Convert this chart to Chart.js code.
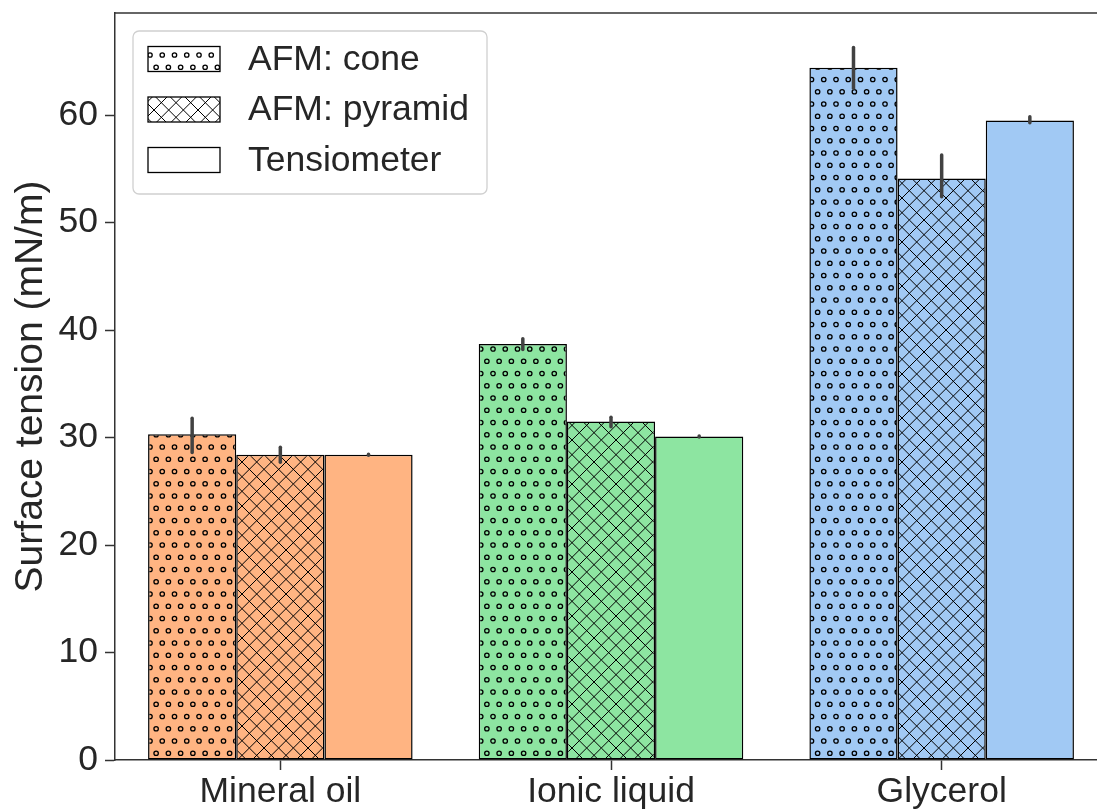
<!DOCTYPE html>
<html>
<head>
<meta charset="utf-8">
<script src="https://cdn.jsdelivr.net/npm/chart.js@4.4.0/dist/chart.umd.min.js"></script>
<style>
    html, body { margin: 0; padding: 0; background: #fff; overflow: hidden; }
    #wrap { position: absolute; left: 0; top: 0; width: 1107px; height: 812px; }
</style>
</head>
<body>
<div id="wrap"><canvas id="tensionChart"></canvas></div>
<script>
// data
const categories = ['Mineral oil', 'Ionic liquid', 'Glycerol'];
const seriesLabels = ['AFM: cone', 'AFM: pyramid', 'Tensiometer'];
const coneValues = [30.3, 38.7, 64.4];
const pyramidValues = [28.4, 31.5, 54.1];
const tensiometerValues = [28.4, 30.1, 59.5];
// error bar ranges (low / high)
const coneErrLow = [28.6, 38.2, 62.5];
const coneErrHigh = [31.8, 39.2, 66.3];
const pyramidErrLow = [27.7, 31.0, 52.4];
const pyramidErrHigh = [29.1, 31.9, 56.3];
const tensiometerErrLow = [28.35, 30.05, 59.3];
const tensiometerErrHigh = [28.45, 30.15, 59.85];
const yTicks = [0, 10, 20, 30, 40, 50, 60];

const categoryColors = ['#FFB482', '#8DE5A1', '#A1C9F4'];
const textColor = '#262626';
const spineColor = '#333333';
const fontFamily = "'Liberation Sans', Arial, sans-serif";

function dotPattern(bg) {
    const step = 12.25;
    const size = step * 4;
    const c = document.createElement('canvas');
    c.width = size; c.height = size;
    const g = c.getContext('2d');
    g.fillStyle = bg;
    g.fillRect(0, 0, size, size);
    g.strokeStyle = '#000';
    g.lineWidth = 1.3;
    for (let r = 0; r < 4; r++) {
        const y = r * step + 6;
        const off = r % 2 ? step / 2 : 0;
        for (let k = -1; k <= 4; k++) {
            const x = k * step + off + 3;
            g.beginPath();
            g.arc(x, y, 2.2, 0, Math.PI * 2);
            g.stroke();
        }
    }
    return g.createPattern(c, 'repeat');
}

function crossPattern(bg) {
    const p = 44 / 3;
    const size = 44;
    const c = document.createElement('canvas');
    c.width = size; c.height = size;
    const g = c.getContext('2d');
    g.fillStyle = bg;
    g.fillRect(0, 0, size, size);
    g.strokeStyle = '#000';
    g.lineWidth = 1;
    for (let k = -4; k <= 7; k++) {
        g.beginPath();
        g.moveTo(k * p, 0);
        g.lineTo(k * p + size, size);
        g.stroke();
        g.beginPath();
        g.moveTo(k * p, size);
        g.lineTo(k * p + size, 0);
        g.stroke();
    }
    return g.createPattern(c, 'repeat');
}

const errorRanges = [
    [coneErrLow, coneErrHigh],
    [pyramidErrLow, pyramidErrHigh],
    [tensiometerErrLow, tensiometerErrHigh]
];

const legendFills = [dotPattern('#ffffff'), crossPattern('#ffffff'), '#ffffff'];

// error bars, spines and legend box
const extrasPlugin = {
    id: 'extras',
    afterDatasetsDraw(chart) {
        const ctx = chart.ctx;
        const y = chart.scales.y;
        ctx.save();
        ctx.strokeStyle = '#424242';
        ctx.lineWidth = 3.5;
        ctx.lineCap = 'round';
        chart.data.datasets.forEach((ds, i) => {
            const meta = chart.getDatasetMeta(i);
            meta.data.forEach((bar, j) => {
                ctx.beginPath();
                ctx.moveTo(bar.x, y.getPixelForValue(errorRanges[i][0][j]));
                ctx.lineTo(bar.x, y.getPixelForValue(errorRanges[i][1][j]));
                ctx.stroke();
            });
        });
        ctx.restore();
    },
    afterDraw(chart) {
        const ctx = chart.ctx;
        const area = chart.chartArea;
        ctx.save();
        // top spine
        ctx.strokeStyle = spineColor;
        ctx.lineWidth = 1.5;
        ctx.beginPath();
        ctx.moveTo(area.left, area.top);
        ctx.lineTo(area.right, area.top);
        ctx.stroke();

        // legend
        const lx = 133, ly = 31, lw = 354, lh = 163;
        ctx.fillStyle = 'rgba(255,255,255,0.85)';
        ctx.strokeStyle = '#d0d0d0';
        ctx.lineWidth = 1.3;
        ctx.beginPath();
        ctx.roundRect(lx, ly, lw, lh, 6);
        ctx.fill();
        ctx.stroke();
        ctx.font = '35.5px ' + fontFamily;
        ctx.textBaseline = 'middle';
        seriesLabels.forEach((label, i) => {
            const cy = 59 + i * 50.5;
            ctx.fillStyle = legendFills[i];
            ctx.fillRect(148, cy - 12.5, 72, 25);
            ctx.strokeStyle = '#000';
            ctx.lineWidth = 1.3;
            ctx.strokeRect(148, cy - 12.5, 72, 25);
            ctx.fillStyle = textColor;
            ctx.fillText(label, 248, cy + 1);
        });
        ctx.restore();
    }
};

function initializeChart() {
    const ctx = document.getElementById('tensionChart').getContext('2d');
    new Chart(ctx, {
        type: 'bar',
        data: {
            labels: categories,
            datasets: [{
                label: seriesLabels[0],
                data: coneValues,
                backgroundColor: categoryColors.map(c => dotPattern(c))
            }, {
                label: seriesLabels[1],
                data: pyramidValues,
                backgroundColor: categoryColors.map(c => crossPattern(c))
            }, {
                label: seriesLabels[2],
                data: tensiometerValues,
                backgroundColor: categoryColors
            }].map(ds => Object.assign(ds, {
                borderColor: '#000',
                borderWidth: 1.5,
                borderSkipped: false,
                categoryPercentage: 0.8,
                barPercentage: 1.0
            }))
        },
        plugins: [extrasPlugin],
        options: {
            responsive: true,
            maintainAspectRatio: false,
            animation: false,
            layout: { padding: { top: 13, right: 0, left: 0, bottom: 0 } },
            plugins: {
                legend: { display: false },
                tooltip: { enabled: false }
            },
            scales: {
                x: {
                    afterFit: scale => {
                        scale.height = 52;
                        scale.paddingLeft = 0;
                        scale.paddingRight = 0;
                    },
                    grid: {
                        display: true,
                        offset: false,
                        drawOnChartArea: false,
                        drawTicks: true,
                        tickLength: 10,
                        tickWidth: 1.5,
                        color: spineColor
                    },
                    border: { display: true, color: spineColor, width: 1.5 },
                    ticks: {
                        color: textColor,
                        padding: 1,
                        font: { family: fontFamily, size: 35.5 }
                    }
                },
                y: {
                    min: 0,
                    max: 69.5,
                    afterFit: scale => {
                        scale.width = 115;
                        scale.paddingTop = 0;
                        scale.paddingBottom = 0;
                    },
                    afterBuildTicks: scale => {
                        scale.ticks = yTicks.map(v => ({ value: v }));
                    },
                    grid: {
                        display: true,
                        drawOnChartArea: false,
                        drawTicks: true,
                        tickLength: 10,
                        tickWidth: 1.5,
                        color: spineColor
                    },
                    border: { display: true, color: spineColor, width: 1.5 },
                    ticks: {
                        color: textColor,
                        padding: 7,
                        font: { family: fontFamily, size: 35.5 }
                    },
                    title: {
                        display: true,
                        text: 'Surface tension (mN/m)',
                        color: textColor,
                        font: { family: fontFamily, size: 39 },
                        padding: { top: 8, bottom: 0 }
                    }
                }
            }
        }
    });
}

document.addEventListener('DOMContentLoaded', initializeChart);
</script>
</body>
</html>
